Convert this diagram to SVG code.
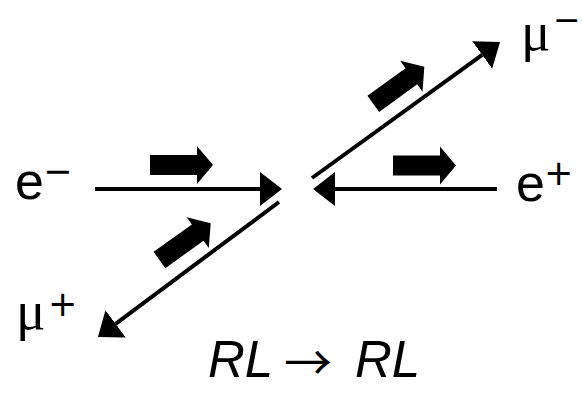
<svg xmlns="http://www.w3.org/2000/svg" width="582" height="396" viewBox="0 0 582 396">
<style>
.line{stroke:#000;stroke-width:4;fill:none}
.spin{fill:#000}
.lbl{font-family:"Liberation Sans",Arial,sans-serif;font-size:52px;fill:#000}
.mu{font-family:"Liberation Serif","Times New Roman",serif;font-size:55px;fill:#000}
.sup{font-family:"DejaVu Sans",sans-serif;font-size:35px;fill:#000}
.supm{font-family:"DejaVu Sans",sans-serif;font-size:33px;fill:#000}
.cap{font-family:"Liberation Sans",Arial,sans-serif;font-size:51px;font-style:italic;fill:#000}
.arr{font-family:"Noto Sans CJK JP","Noto Sans CJK SC",sans-serif;font-size:48px;fill:#000}
</style>
<defs>
<marker id="head" markerUnits="userSpaceOnUse" markerWidth="24" markerHeight="36" viewBox="0 -18 24 36" refX="0" refY="0" orient="auto"><path d="M0,-17 L22,0 L0,17 Z" fill="#000"/></marker>
<path id="spinArrow" d="M0,-10 H47 V-19 L63,0 L47,19 V10 H0 Z"/>
</defs>
<rect width="582" height="396" fill="#fff"/>
<g id="connectors">
<line class="line" x1="95" y1="189" x2="260" y2="189" marker-end="url(#head)"/>
<line class="line" x1="497" y1="189" x2="335" y2="189" marker-end="url(#head)"/>
<line class="line" x1="312" y1="178" x2="482.2" y2="54.9" marker-end="url(#head)"/>
<line class="line" x1="279" y1="202" x2="115.6" y2="323.8" marker-end="url(#head)"/>
</g>
<g id="e-minus">
<text class="lbl" x="15" y="199">e</text>
<text class="sup" x="43" y="183">−</text>
<use href="#spinArrow" class="spin" transform="translate(150,165)"/>
</g>
<g id="e-plus">
<text class="lbl" x="516" y="201">e</text>
<text class="sup" x="544" y="185">+</text>
<use href="#spinArrow" class="spin" transform="translate(393,165.5)"/>
</g>
<g id="mu-minus">
<text class="mu" x="521" y="50">μ</text>
<text class="supm" x="553" y="31">−</text>
<use href="#spinArrow" class="spin" transform="translate(373.3,103.8) rotate(-35.9)"/>
</g>
<g id="mu-plus">
<text class="mu" x="16" y="329">μ</text>
<text class="sup" x="48" y="316">+</text>
<use href="#spinArrow" class="spin" transform="translate(159.5,260) rotate(-35.6)"/>
</g>
<g id="caption">
<text class="cap" x="208" y="377">RL</text>
<text class="arr" x="284" y="380">→</text>
<text class="cap" x="355" y="377">RL</text>
</g>
</svg>
